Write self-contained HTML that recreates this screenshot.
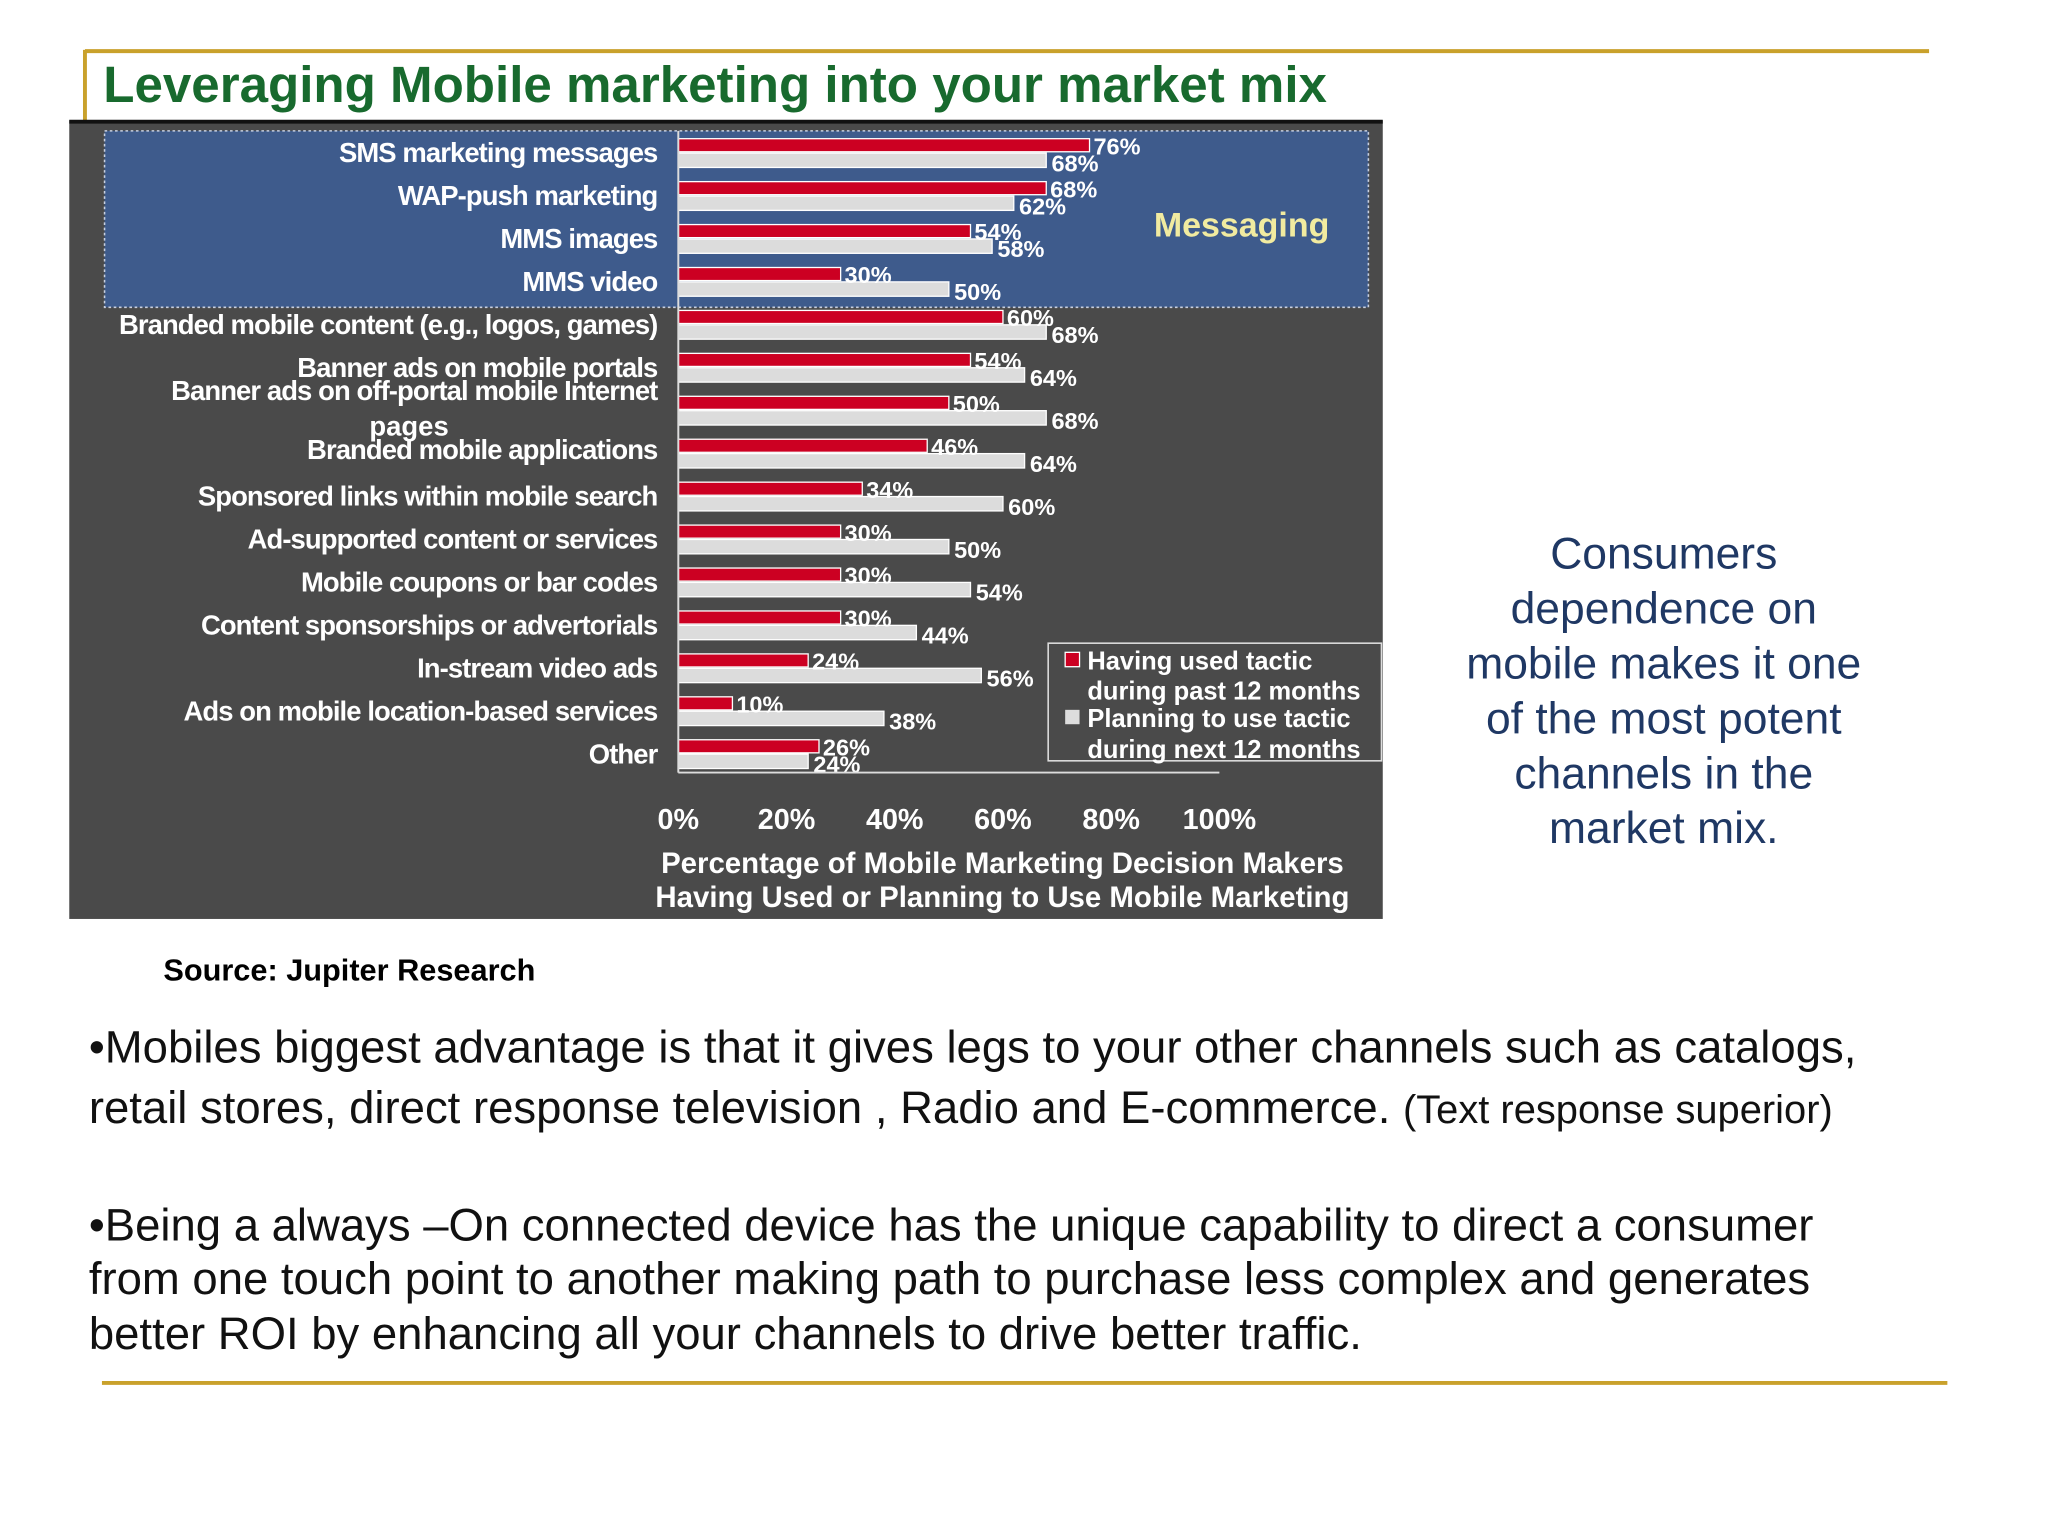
<!DOCTYPE html>
<html><head><meta charset="utf-8"><style>
html,body{margin:0;padding:0;background:#fff;}
svg{display:block;}
</style></head><body>
<svg id="page" width="2048" height="1536" viewBox="0 0 1567 1175" xmlns="http://www.w3.org/2000/svg" font-family="Liberation Sans, Arial, sans-serif">
<rect width="1567" height="1175" fill="#fff"/>
<line x1="65" y1="39" x2="1476" y2="39" stroke="#c9a12b" stroke-width="3"/>
<line x1="65" y1="38" x2="65" y2="92" stroke="#c9a12b" stroke-width="3"/>
<text x="79" y="78" font-size="39.1" font-weight="bold" fill="#186a2e">Leveraging Mobile marketing into your market mix</text>
<rect x="53" y="92" width="1005" height="611" fill="#4a4a4a"/>
<line x1="53" y1="93" x2="1058" y2="93" stroke="#111" stroke-width="3"/>
<rect x="80" y="100" width="967" height="135" fill="#3e5b8c" stroke="#c8d0e0" stroke-width="1.2" stroke-dasharray="2,2"/>
<text x="950" y="181" font-size="26" font-weight="bold" fill="#f1eba0" text-anchor="middle">Messaging</text>
<g id="chart"></g>
<g>
<rect x="802" y="492" width="255" height="90" fill="none" stroke="#ddd" stroke-width="1.2"/>
<rect x="815" y="499" width="11" height="11" fill="#cc0022" stroke="#fff"/>
<text x="832" y="512" font-size="19.5" font-weight="bold" fill="#fff">Having used tactic</text>
<text x="832" y="535" font-size="19.5" font-weight="bold" fill="#fff">during past 12 months</text>
<rect x="815" y="543" width="11" height="11" fill="#ddd"/>
<text x="832" y="556" font-size="19.5" font-weight="bold" fill="#fff">Planning to use tactic</text>
<text x="832" y="580" font-size="19.5" font-weight="bold" fill="#fff">during next 12 months</text>
</g>
<text x="767" y="668" font-size="22.5" font-weight="bold" fill="#fff" text-anchor="middle">Percentage of Mobile Marketing Decision Makers</text>
<text x="767" y="694" font-size="22.5" font-weight="bold" fill="#fff" text-anchor="middle">Having Used or Planning to Use Mobile Marketing</text>
<g font-size="34" fill="#1f3864" text-anchor="middle">
<text x="1273" y="435">Consumers</text>
<text x="1273" y="477">dependence on</text>
<text x="1273" y="519">mobile makes it one</text>
<text x="1273" y="561">of the most potent</text>
<text x="1273" y="603">channels in the</text>
<text x="1273" y="645">market mix.</text>
</g>
<text x="125" y="750" font-size="23.5" font-weight="bold" fill="#000">Source: Jupiter Research</text>
<g font-size="34.8" fill="#111">
<text x="68" y="813">•Mobiles biggest advantage is that it gives legs to your other channels such as catalogs,</text>
<text x="68" y="859">retail stores, direct response television , Radio and E-commerce. <tspan font-size="30.5">(Text response superior)</tspan></text>
<text x="68" y="949">•Being a always –On connected device has the unique capability to direct a consumer</text>
<text x="68" y="990">from one touch point to another making path to purchase less complex and generates</text>
<text x="68" y="1032">better ROI by enhancing all your channels to drive better traffic.</text>
</g>
<line x1="78" y1="1058" x2="1490" y2="1058" stroke="#c9a12b" stroke-width="3"/>
</svg>
<script>
const categories = ["SMS marketing messages","WAP-push marketing","MMS images","MMS video","Branded mobile content (e.g., logos, games)","Banner ads on mobile portals","Banner ads on off-portal mobile Internet","Branded mobile applications","Sponsored links within mobile search","Ad-supported content or services","Mobile coupons or bar codes","Content sponsorships or advertorials","In-stream video ads","Ads on mobile location-based services","Other"];
const usedValues = [76,68,54,30,60,54,50,46,34,30,30,30,24,10,26];
const planValues = [68,62,58,50,68,64,68,64,60,50,54,44,56,38,24];
const tickLabels = ["0%","20%","40%","60%","80%","100%"];
const tickValues = [0,20,40,60,80,100];

const NS = "http://www.w3.org/2000/svg";
const g = document.getElementById("chart");
const x0 = 519, x100 = 933;
const xs = v => x0 + (x100 - x0) * v / 100;
const rowY = i => 117 + 32.85 * i;
function el(tag, attrs, text) {
  const e = document.createElementNS(NS, tag);
  for (const k in attrs) e.setAttribute(k, attrs[k]);
  if (text !== undefined) e.textContent = text;
  g.appendChild(e);
  return e;
}
categories.forEach((c, i) => {
  const cy = rowY(i);
  let ly = cy + 7;
  if (i === 6) ly = cy - 8;
  if (i === 7) ly = cy + 4;
  const t = el("text", {x: 503, y: ly, "font-size": 21, "font-weight": "bold", fill: "#fff", "text-anchor": "end", "letter-spacing": "-0.7"}, c);
  
  
  if (i === 6) {
    const t2 = el("text", {x: 313, y: cy + 19, "font-size": 21, "font-weight": "bold", fill: "#fff", "text-anchor": "middle"}, "pages");
    
    
  }
  const r = el("rect", {x: x0, y: cy - 11, width: xs(usedValues[i]) - x0, height: 10, fill: "#cc0022", stroke: "#fff", "stroke-width": 1});
  
  
  const p = el("rect", {x: x0, y: cy, width: xs(planValues[i]) - x0, height: 11, fill: "#dcdcdc", stroke: "#fff", "stroke-width": 1});
  
  
  const l1 = el("text", {x: xs(usedValues[i]) + 3, y: cy + 1, "font-size": 18, "font-weight": "bold", fill: "#fff"}, usedValues[i] + "%");
  
  
  const l2 = el("text", {x: xs(planValues[i]) + 4, y: cy + 14, "font-size": 18, "font-weight": "bold", fill: "#fff"}, planValues[i] + "%");
  
  
});
const ya = el("line", {x1: x0, y1: 100, x2: x0, y2: 591, stroke: "#ddd", "stroke-width": 1.5});


const xa = el("line", {x1: x0, y1: 591, x2: xs(100), y2: 591, stroke: "#ddd", "stroke-width": 1.5});


tickValues.forEach((v, i) => {
  const t = el("text", {x: xs(v), y: 634, "font-size": 22, "font-weight": "bold", fill: "#fff", "text-anchor": "middle"}, tickLabels[i]);
  
  
});
</script>
</body></html>
